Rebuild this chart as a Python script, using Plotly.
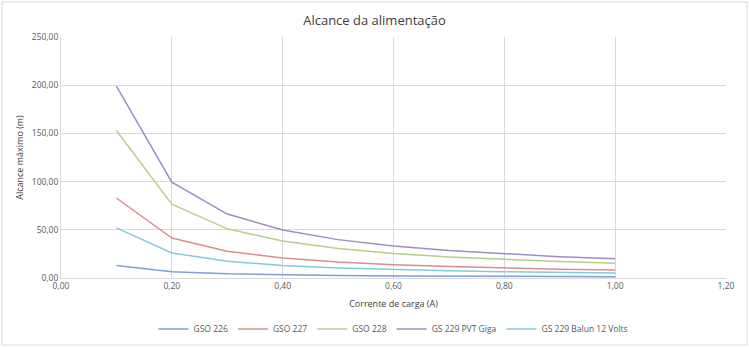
import plotly.graph_objects as go

x = [0.1, 0.2, 0.3, 0.4, 0.5, 0.6, 0.7, 0.8, 0.9, 1.0]
gso226 = [13.0, 6.5, 4.3, 3.3, 2.6, 2.2, 1.9, 1.6, 1.4, 1.3]
gso227 = [83.0, 41.5, 27.7, 20.8, 16.6, 13.8, 11.9, 10.4, 9.2, 8.3]
gso228 = [153.0, 76.5, 51.0, 38.3, 30.6, 25.5, 21.9, 19.1, 17.0, 15.3]
gs229pvt = [199.0, 99.5, 66.3, 49.8, 39.8, 33.2, 28.4, 24.9, 22.1, 19.9]
gs229balun = [52.0, 26.0, 17.3, 13.0, 10.4, 8.7, 7.4, 6.5, 5.8, 5.2]

names = ["GSO 226", "GSO 227", "GSO 228", "GS 229 PVT Giga", "GS 229 Balun 12 Volts"]
series = [gso226, gso227, gso228, gs229pvt, gs229balun]
colors = ["#7F9FD3", "#DA8E8B", "#B6CF8A", "#A08CC2", "#84CBDC"]

x_ticks = [0.0, 0.2, 0.4, 0.6, 0.8, 1.0, 1.2]
y_ticks = [0, 50, 100, 150, 200, 250]

fig = go.Figure()
for n, s, c in zip(names, series, colors):
    fig.add_trace(go.Scatter(x=x, y=s, mode="lines", name=n,
                             line=dict(color=c, width=1.5)))

fnt = "Open Sans, Liberation Sans, sans-serif"
fig.update_layout(
    width=749, height=347,
    margin=dict(l=61, r=23, t=37, b=69, autoexpand=False),
    paper_bgcolor="white", plot_bgcolor="white",
    font=dict(family=fnt, size=9, color="#595959"),
    title=dict(text="Alcance da alimentação", x=0.5, xanchor="center",
               yref="container", y=1 - 20 / 347, yanchor="middle",
               font=dict(size=13, color="#404040", family=fnt)),
    xaxis=dict(range=[0, 1.2], tickvals=x_ticks,
               ticktext=[f"{v:.2f}".replace(".", ",") for v in x_ticks],
               showgrid=True, gridcolor="#D9D9D9", gridwidth=1,
               zeroline=False, showline=True, linecolor="#D9D9D9",
               ticks="", tickfont=dict(size=8.5, color="#595959"),
               title=dict(text="Corrente de carga (A)", font=dict(size=9, color="#404040"), standoff=10)),
    yaxis=dict(range=[0, 250], tickvals=y_ticks,
               ticktext=[f"{v:.2f}".replace(".", ",") for v in y_ticks],
               showgrid=True, gridcolor="#D9D9D9", gridwidth=1,
               zeroline=False, showline=True, linecolor="#D9D9D9",
               ticks="", tickfont=dict(size=8.5, color="#595959"),
               title=dict(text="Alcance máximo (m)", font=dict(size=9, color="#404040"), standoff=6)),
    legend=dict(orientation="h", x=0.5, xanchor="center",
                yref="container", y=1 - 329 / 347, yanchor="middle",
                font=dict(size=8.5, color="#595959"), itemwidth=30,
                tracegroupgap=0, bgcolor="rgba(0,0,0,0)"),
    showlegend=True,
)
fig.add_shape(type="rect", xref="paper", yref="paper",
              x0=-59/665, x1=1+21/665, y0=-67/241, y1=1+35/241,
              line=dict(color="#D9D9D9", width=1))
fig.write_html("out.html")
